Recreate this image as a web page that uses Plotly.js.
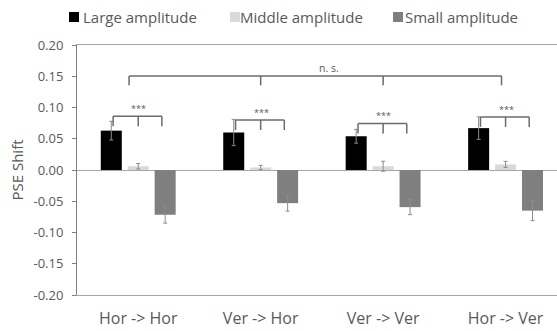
<!DOCTYPE html>
<html>
<head>
<meta charset="utf-8">
<script src="https://cdn.plot.ly/plotly-3.0.1.min.js"></script>
<style>html,body{margin:0;padding:0;background:#fff}#chart{width:557px;height:331px}</style>
</head>
<body>
<div id="chart"></div>
<script>
var categories = ['Hor -> Hor', 'Ver -> Hor', 'Ver -> Ver', 'Hor -> Ver'];
var seriesNames = ['Large amplitude', 'Middle amplitude', 'Small amplitude'];
var largeVals = [0.063, 0.060, 0.054, 0.067];
var largeErr = [0.015, 0.021, 0.011, 0.018];
var middleVals = [0.006, 0.004, 0.006, 0.009];
var middleErr = [0.0043, 0.0034, 0.008, 0.0048];
var smallVals = [-0.0715, -0.053, -0.0594, -0.065];
var smallErr = [0.0135, 0.0128, 0.012, 0.016];
var yTickVals = [-0.2, -0.15, -0.1, -0.05, 0, 0.05, 0.1, 0.15, 0.2];
var yTickText = ['-0.20', '-0.15', '-0.10', '-0.05', '0.00', '0.05', '0.10', '0.15', '0.20'];
// significance brackets (heights in data units)
var groupBracketTop = [0.086, 0.080, 0.0745, 0.085];
var groupBracketLabel = ['***', '***', '***', '***'];
var overallBracketTop = 0.1505;
var overallBracketLabel = 'n. s.';

var textColor = '#595959';
var colors = ['#000000', '#d9d9d9', '#7f7f7f'];
var errColor = '#8c8c8c';

function mk(name, vals, errs, color) {
  return {
    type: 'bar', name: name, x: categories, y: vals, showlegend: false,
    marker: {color: color, line: {color: color, width: 0}},
    error_y: {type: 'data', array: errs, visible: true, color: errColor, thickness: 1, width: 2}
  };
}
var data = [
  mk(seriesNames[0], largeVals, largeErr, colors[0]),
  mk(seriesNames[1], middleVals, middleErr, colors[1]),
  mk(seriesNames[2], smallVals, smallErr, colors[2])
];

var shapes = [];
var annotations = [];
var brColor = '#6b6b6b';
var drop = 0.016;
function seg(x0, y0, x1, y1, w) {
  shapes.push({type: 'line', xref: 'x', yref: 'y', x0: x0, y0: y0, x1: x1, y1: y1,
    line: {color: brColor, width: w}});
}
for (var i = 0; i < categories.length; i++) {
  var t = groupBracketTop[i];
  var l = i - 0.205, r = i + 0.193;
  seg(l, t, r, t, 1.5);
  seg(l, t, l, t - drop, 1.5);
  seg(i, t, i, t - drop, 1.5);
  seg(r, t, r, t - drop, 1.5);
  annotations.push({x: i + 0.005, y: t, xref: 'x', yref: 'y', text: groupBracketLabel[i],
    showarrow: false, yanchor: 'bottom', yshift: -1, font: {family: 'Open Sans', size: 9, color: textColor}});
}
var ol = -0.075, orr = 3 - 0.033;
seg(ol, overallBracketTop, orr, overallBracketTop, 1.5);
seg(ol, overallBracketTop, ol, overallBracketTop - 0.015, 1.5);
seg(1, overallBracketTop, 1, overallBracketTop - 0.015, 1.5);
seg(2, overallBracketTop, 2, overallBracketTop - 0.015, 1.5);
seg(orr, overallBracketTop, orr, overallBracketTop - 0.015, 1.5);
annotations.push({x: 1.56, y: overallBracketTop, xref: 'x', yref: 'y', text: overallBracketLabel,
  showarrow: false, yanchor: 'bottom', yshift: -1, font: {family: 'Open Sans', size: 10.5, color: textColor}});

// legend (drawn with shapes + text, paper coordinates)
var legendSquareX = [-0.0167, 0.3188, 0.6583];
var legendSquareW = 0.0209;
var legendTextX = [0.0073, 0.3354, 0.6800];
for (var k = 0; k < seriesNames.length; k++) {
  shapes.push({type: 'rect', xref: 'paper', yref: 'paper', x0: legendSquareX[k], x1: legendSquareX[k] + legendSquareW,
    y0: 1.092, y1: 1.132, fillcolor: colors[k], line: {width: 0}});
  annotations.push({x: legendTextX[k], y: 1.112, xref: 'paper', yref: 'paper', text: seriesNames[k],
    showarrow: false, xanchor: 'left', yanchor: 'middle', font: {family: 'Open Sans', size: 15, color: textColor}});
}

var layout = {
  width: 557, height: 331,
  margin: {l: 77, r: 0, t: 45, b: 36},
  paper_bgcolor: '#ffffff', plot_bgcolor: '#ffffff',
  font: {family: 'Open Sans', color: textColor},
  barmode: 'group', bargap: 0.34, bargroupgap: 0.22,
  showlegend: false,
  xaxis: {type: 'category', range: [-0.5, 3.42], showline: true, mirror: true, linecolor: '#a6a6a6', linewidth: 1,
    ticks: '', showgrid: false, zeroline: false, tickfont: {size: 16, color: textColor}, ticklabelstandoff: 9, fixedrange: true},
  yaxis: {range: [-0.2, 0.2], tickvals: yTickVals, ticktext: yTickText, ticks: 'outside', ticklen: 4,
    tickcolor: '#7f7f7f', showline: true, linecolor: '#7f7f7f', linewidth: 1, showgrid: false,
    zeroline: true, zerolinecolor: '#a6a6a6', zerolinewidth: 1, tickfont: {size: 13, color: textColor},
    ticklabelstandoff: 6,
    title: {text: 'PSE Shift', font: {size: 15, color: textColor}, standoff: 6}, fixedrange: true},
  shapes: shapes, annotations: annotations
};
Plotly.newPlot('chart', data, layout, {displayModeBar: false, staticPlot: true});
</script>
</body>
</html>
